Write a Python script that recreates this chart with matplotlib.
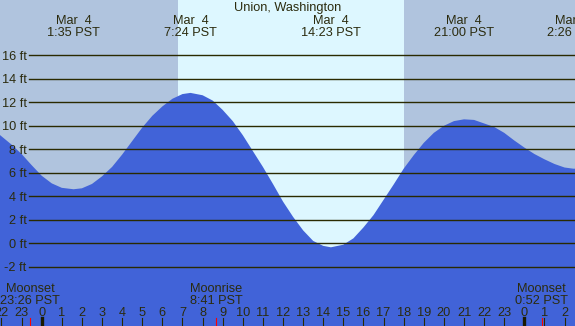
import matplotlib
matplotlib.use('Agg')
import matplotlib.pyplot as plt
from matplotlib.transforms import blended_transform_factory

plt.rcParams['font.family'] = ['Liberation Sans', 'DejaVu Sans']

# ---------------- data (hours from midnight Mar 4, PST) ----------------
tide_hours = [-2.1, -1.5, -1.0, -0.5, 0.0, 0.5, 1.0, 1.583, 2.0, 2.5, 3.0, 3.5,
              4.0, 4.5, 5.0, 5.5, 6.0, 6.5, 7.0, 7.4, 8.0, 8.5, 9.0, 9.5,
              10.0, 10.5, 11.0, 11.5, 12.0, 12.5, 13.0, 13.5, 14.0, 14.383,
              15.0, 15.5, 16.0, 16.5, 17.0, 17.5, 18.0, 18.5, 19.0, 19.5,
              20.0, 20.5, 21.0, 21.5, 22.0, 22.5, 23.0, 23.5, 24.0, 24.5,
              25.0, 25.5, 26.0, 26.433, 26.6]
tide_feet = [9.25, 8.4, 7.6, 6.65, 5.75, 5.1, 4.72, 4.6, 4.68, 5.05, 5.7, 6.5,
             7.55, 8.7, 9.85, 10.85, 11.65, 12.3, 12.7, 12.8, 12.6, 12.15, 11.35, 10.4,
             9.2, 7.85, 6.5, 5.05, 3.55, 2.25, 1.1, 0.2, -0.22, -0.34,
             -0.12, 0.42, 1.35, 2.4, 3.7, 5.0, 6.35, 7.5, 8.55, 9.4,
             10.0, 10.4, 10.55, 10.5, 10.2, 9.9, 9.4, 8.75, 8.15, 7.6,
             7.15, 6.75, 6.45, 6.35, 6.35]

extreme_hours = [1.583, 7.4, 14.383, 21.0, 26.433]
extreme_dates = ["Mar  4", "Mar  4", "Mar  4", "Mar  4", "Mar  5"]
extreme_times = ["1:35 PST", "7:24 PST", "14:23 PST", "21:00 PST", "2:26 PST"]

moon_hours = [-0.567, 8.683, 24.867]
moon_events = ["Moonset", "Moonrise", "Moonset"]
moon_times = ["23:26 PST", "8:41 PST", "0:52 PST"]

sunrise, sunset = 6 + 47 / 60, 18 + 1 / 60

hour_ticks = list(range(-2, 27))
hour_labels = [str(h % 24) for h in hour_ticks]
level_ticks = [-2, 0, 2, 4, 6, 8, 10, 12, 14, 16]

title = "Union, Washington"

# ---------------- style ----------------
W, H = 575, 326
NIGHT = '#b0c4de'
DAY = '#ddf7ff'
WATER = '#4163d8'
INK = '#2b2b0e'
LINE = '#2a2a00'
FS = 9.2

fig = plt.figure(figsize=(W / 100, H / 100), dpi=100)
fig.patch.set_facecolor(NIGHT)
ax = fig.add_axes([0, 0, 1, 1])
ax.set_facecolor(NIGHT)
ax.axis('off')

# pixel layout: 20.11 px per hour (0h at x=41.7), 11.75 px per foot (0 ft at y=243.3)
x0, pxh = 41.7, 20.11
y0, pxf = 243.3, 11.75
ax.set_xlim(-x0 / pxh, (W - x0) / pxh)
ax.set_ylim((y0 - H) / pxf, y0 / pxf)
ylo = (y0 - H) / pxf

def py(y):
    return 1 - y / H

tx = blended_transform_factory(ax.transData, fig.transFigure)

ax.axvspan(sunrise, sunset, color=DAY, zorder=0, lw=0)
ax.fill_between(tide_hours, tide_feet, ylo - 1, color=WATER, lw=0, zorder=1)

for lv in level_ticks:
    ax.axhline(lv, xmin=29.3 / W, xmax=1, color=LINE, lw=1.0, zorder=2)
    ax.text(26.7 / W, py(y0 - lv * pxf + 4.6), f"{lv} ft", transform=fig.transFigure,
            ha='right', va='baseline', fontsize=FS, color=INK)

fig.text(0.5, py(11), title, ha='center', va='baseline', fontsize=FS, color=INK)
for h, d, t in zip(extreme_hours, extreme_dates, extreme_times):
    ax.text(h, py(24), d, transform=tx, ha='center', va='baseline', fontsize=FS, color=INK)
    ax.text(h, py(36), t, transform=tx, ha='center', va='baseline', fontsize=FS, color=INK)

for h, ev, t in zip(moon_hours, moon_events, moon_times):
    ax.text(h, py(292), ev, transform=tx, ha='center', va='baseline', fontsize=FS, color=INK)
    ax.text(h, py(304.3), t, transform=tx, ha='center', va='baseline', fontsize=FS, color=INK)
    ax.plot([h, h], [py(318), py(H)], transform=tx, color='#ff0000', lw=0.8, zorder=3)

for h, lab in zip(hour_ticks, hour_labels):
    ax.text(h, py(315.7), lab, transform=tx, ha='center', va='baseline', fontsize=FS, color=INK)
    if h % 24 == 0:
        ax.plot([h, h], [py(318), py(H)], transform=tx, color='#1a1a00', lw=2.4, zorder=3)
    else:
        ax.plot([h, h], [py(318), py(H)], transform=tx, color=LINE, lw=0.8, zorder=3)

fig.savefig('out.png', dpi=100, facecolor=NIGHT)
